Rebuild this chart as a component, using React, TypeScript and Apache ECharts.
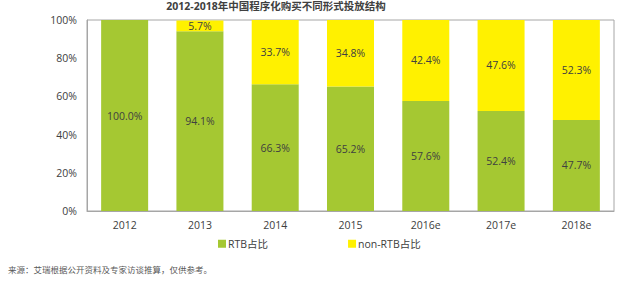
import React, { useEffect, useRef } from "react";
import * as echarts from "echarts";

const categories = ["2012", "2013", "2014", "2015", "2016e", "2017e", "2018e"];
const rtbShare = [100.0, 94.1, 66.3, 65.2, 57.6, 52.4, 47.7];
const nonRtbShare = [0, 5.7, 33.7, 34.8, 42.4, 47.6, 52.3];
const yTicks = [0, 20, 40, 60, 80, 100];

const FONT = "'Open Sans', 'Noto Sans CJK SC', sans-serif";

export default function App() {
  const ref = useRef<HTMLDivElement>(null);
  useEffect(() => {
    if (!ref.current) return;
    const chart = echarts.init(ref.current, undefined, { renderer: "svg" });
    chart.setOption({
      animation: false,
      backgroundColor: "#ffffff",
      textStyle: { fontFamily: FONT },
      title: {
        text: "2012-2018年中国程序化购买不同形式投放结构",
        left: 276,
        textAlign: "center",
        top: 1,
        padding: 0,
        textStyle: { fontSize: 10.5, fontWeight: "bold", color: "#404040", fontFamily: FONT },
      },
      grid: {
        left: 87,
        right: 5,
        top: 20,
        bottom: 70,
        show: true,
        borderColor: "#a6a6a6",
        borderWidth: 1,
        backgroundColor: "transparent",
      },
      legend: {
        bottom: 32,
        left: 218,
        padding: 0,
        itemGap: 80,
        itemWidth: 8,
        itemHeight: 8,
        icon: "rect",
        textStyle: { fontSize: 10.5, color: "#404040", fontFamily: FONT, padding: [0, 0, 0, -3] },
        data: ["RTB占比", "non-RTB占比"],
      },
      xAxis: {
        type: "category",
        data: categories,
        axisLine: { lineStyle: { color: "#a6a6a6" } },
        axisTick: { show: false },
        axisLabel: { fontSize: 10.5, color: "#404040", margin: 9, fontFamily: FONT },
      },
      yAxis: {
        type: "value",
        min: yTicks[0],
        max: yTicks[yTicks.length - 1],
        interval: 20,
        axisLine: { show: true, lineStyle: { color: "#a6a6a6" } },
        axisTick: { show: false },
        splitLine: { show: false },
        axisLabel: {
          fontSize: 10.5,
          color: "#404040",
          margin: 10,
          fontFamily: FONT,
          formatter: (v: number) => `${v}%`,
        },
      },
      series: [
        {
          name: "RTB占比",
          type: "bar",
          stack: "total",
          barWidth: 47,
          data: rtbShare,
          itemStyle: { color: "#a5c832" },
          label: {
            show: true,
            position: "inside",
            fontSize: 10.5,
            color: "#404040",
            fontFamily: FONT,
            formatter: (p: any) => `${p.value.toFixed(1)}%`,
          },
        },
        {
          name: "non-RTB占比",
          type: "bar",
          stack: "total",
          barWidth: 47,
          data: nonRtbShare,
          itemStyle: { color: "#fff100" },
          label: {
            show: true,
            position: "inside",
            fontSize: 10.5,
            color: "#404040",
            fontFamily: FONT,
            formatter: (p: any) => (p.value > 0 ? `${p.value.toFixed(1)}%` : ""),
          },
        },
      ],
      graphic: [
        {
          type: "text",
          left: 8,
          top: 265,
          style: {
            text: "来源：艾瑞根据公开资料及专家访谈推算，仅供参考。",
            fontSize: 8.5,
            fill: "#595959",
            fontFamily: FONT,
          },
        },
      ],
    });
    return () => chart.dispose();
  }, []);
  return <div ref={ref} style={{ width: 619, height: 281, position: "absolute", left: 0, top: 0 }} />;
}
